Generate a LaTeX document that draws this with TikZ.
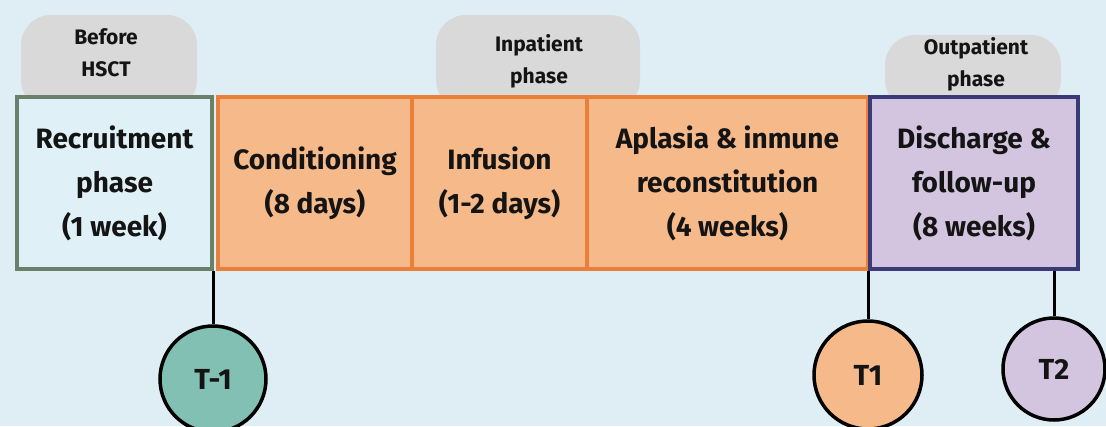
\documentclass[tikz,border=0pt]{standalone}
\usepackage{fontspec}
\setmainfont{Fira Sans}
\definecolor{bgc}{HTML}{DFEEF4}
\definecolor{tabc}{HTML}{D9D9D9}
\definecolor{recfill}{HTML}{DFF1F6}
\definecolor{recline}{HTML}{6A8068}
\definecolor{orfill}{HTML}{F6B98A}
\definecolor{orline}{HTML}{E8803A}
\definecolor{dsfill}{HTML}{D3C5E0}
\definecolor{dsline}{HTML}{3A3A78}
\definecolor{tealc}{HTML}{82C0B4}
\definecolor{txt}{HTML}{141414}
\tikzset{
  phasebox/.style={rectangle, line width=4pt, inner sep=0pt, align=center,
    font=\fontsize{28}{44}\selectfont\bfseries, text=txt},
  tabbox/.style={fill=tabc, rounded corners=30pt},
  tablabel/.style={align=center, font=\fontsize{21}{32}\selectfont\bfseries, text=txt},
  tpoint/.style={circle, draw=black, line width=3.5pt, inner sep=0pt,
    font=\fontsize{29}{30}\selectfont\bfseries, text=txt},
  link/.style={line width=3pt, draw=black}
}
\begin{document}
\begin{tikzpicture}[x=1pt,y=-1pt]
\fill[bgc] (0,0) rectangle (1106,426);
\useasboundingbox (0,0) rectangle (1106,426);
% tabs
\path[tabbox] (21,110) -- (21,15) -- (197,15) -- (197,110) -- cycle;
\path[tabbox] (436,110) -- (436,15) -- (640,15) -- (640,110) -- cycle;
\path[tabbox] (885,110) -- (885,35) -- (1061,35) -- (1061,110) -- cycle;
\node[tablabel] (tb1) at (106,53) {Before\\HSCT};
\node[tablabel] (tb2) at (539,61) {Inpatient\\phase};
\node[tablabel] (tb3) at (976,64) {Outpatient\\phase};
% boxes
\node[phasebox, draw=recline, fill=recfill, minimum width=195pt, minimum height=172pt] (rec) at (114.5,183) {Recruitment\\phase\\(1 week)};
\node[phasebox, draw=orline, fill=orfill, minimum width=194pt, minimum height=172pt] (cond) at (315,183) {Conditioning\\(8 days)};
\node[phasebox, draw=orline, fill=orfill, minimum width=175pt, minimum height=172pt] (inf) at (499.5,183) {Infusion\\(1-2 days)};
\node[phasebox, draw=orline, fill=orfill, minimum width=281pt, minimum height=172pt] (apl) at (727.5,183) {Aplasia \& inmune\\reconstitution\\(4 weeks)};
\node[phasebox, draw=dsline, fill=dsfill, minimum width=208pt, minimum height=172pt] (dis) at (974,183) {Discharge \&\\follow-up\\(8 weeks)};
% time points
\node[tpoint, fill=tealc, minimum size=106pt] (tm1) at (213,379) {T-1};
\node[tpoint, fill=orfill, minimum size=108pt] (t1) at (868,375) {T1};
\node[tpoint, fill=dsfill, minimum size=102pt] (t2) at (1054,369) {T2};
\coordinate (a1) at (213,271);
\coordinate (a2) at (868,271);
\coordinate (a3) at (1054,271);
\draw[link] (a1) -- (tm1.north);
\draw[link] (a2) -- (t1.north);
\draw[link] (a3) -- (t2.north);
\end{tikzpicture}
\end{document}
